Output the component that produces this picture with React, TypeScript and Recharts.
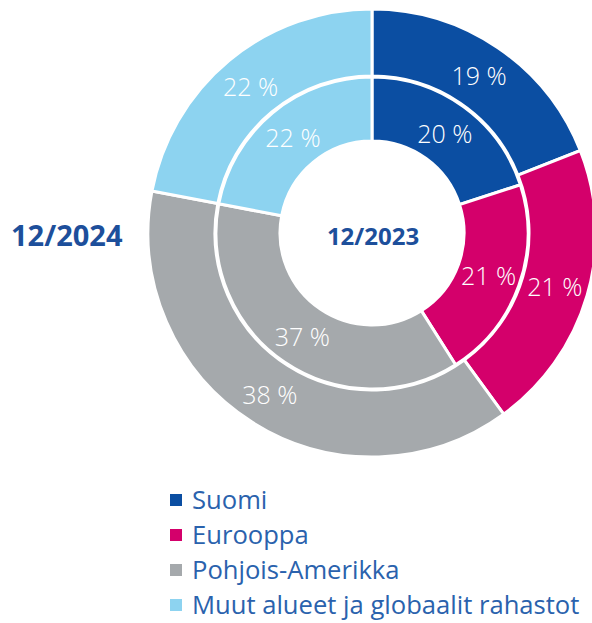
import { Legend, Pie, PieChart, Cell } from 'recharts';

const categories = ['Suomi', 'Eurooppa', 'Pohjois-Amerikka', 'Muut alueet ja globaalit rahastot'];
const share2024 = [19, 21, 38, 22];
const share2023 = [20, 21, 37, 22];
const colors = ['#0b4ea2', '#d4006b', '#a5a9ac', '#8dd3f0'];

const outerData = categories.map((name, i) => ({ name, value: share2024[i] }));
const innerData = categories.map((name, i) => ({ name, value: share2023[i] }));

const FONT = '"Open Sans", "Noto Sans", sans-serif';
const TITLE = '#1d4f9b';
const RAD = Math.PI / 180;

function SliceLabel(props: any) {
  const { cx, cy, midAngle, innerRadius, outerRadius, value } = props;
  const r = (innerRadius + outerRadius) / 2;
  const x = cx + r * Math.cos(-midAngle * RAD);
  const y = cy + r * Math.sin(-midAngle * RAD);
  return (
    <text
      x={x}
      y={y}
      fill="#ffffff"
      textAnchor="middle"
      dominantBaseline="central"
      style={{ fontFamily: FONT, fontSize: 25, fontWeight: 300 }}
    >
      {`${value} %`}
    </text>
  );
}

function LegendList() {
  return (
    <div style={{ fontFamily: FONT, fontSize: 25.6, color: '#2a62ad', lineHeight: 1 }}>
      {categories.map((name, i) => (
        <div
          key={name}
          style={{ display: 'flex', alignItems: 'center', height: 28, marginTop: i === 0 ? 0 : 7 }}
        >
          <span
            style={{ width: 12, height: 12, background: colors[i], marginRight: 10, flexShrink: 0 }}
          />
          <span style={{ whiteSpace: 'nowrap' }}>{name}</span>
        </div>
      ))}
    </div>
  );
}

export default function App() {
  return (
    <div style={{ position: 'absolute', left: 0, top: 0, background: '#fff' }}>
      <PieChart width={592} height={623}>
        <Pie
          data={outerData}
          dataKey="value"
          cx={367}
          cy={228}
          innerRadius={157}
          outerRadius={224}
          startAngle={90}
          endAngle={-270}
          stroke="#ffffff"
          strokeWidth={3}
          label={SliceLabel}
          labelLine={false}
          isAnimationActive={false}
        >
          {outerData.map((d, i) => (
            <Cell key={d.name} fill={colors[i]} />
          ))}
        </Pie>
        <Pie
          data={innerData}
          dataKey="value"
          cx={367}
          cy={228}
          innerRadius={92}
          outerRadius={156}
          startAngle={90}
          endAngle={-270}
          stroke="#ffffff"
          strokeWidth={3}
          label={SliceLabel}
          labelLine={false}
          isAnimationActive={false}
        >
          {innerData.map((d, i) => (
            <Cell key={d.name} fill={colors[i]} />
          ))}
        </Pie>
        <text
          x={373}
          y={235}
          textAnchor="middle"
          dominantBaseline="central"
          fill={TITLE}
          style={{ fontFamily: FONT, fontSize: 24, fontWeight: 700 }}
        >
          12/2023
        </text>
        <text
          x={11}
          y={234}
          dominantBaseline="central"
          fill={TITLE}
          style={{ fontFamily: FONT, fontSize: 29, fontWeight: 700 }}
        >
          12/2024
        </text>
        <Legend
          content={<LegendList />}
          wrapperStyle={{ position: 'absolute', left: 170, top: 486, width: 422 }}
        />
      </PieChart>
    </div>
  );
}
